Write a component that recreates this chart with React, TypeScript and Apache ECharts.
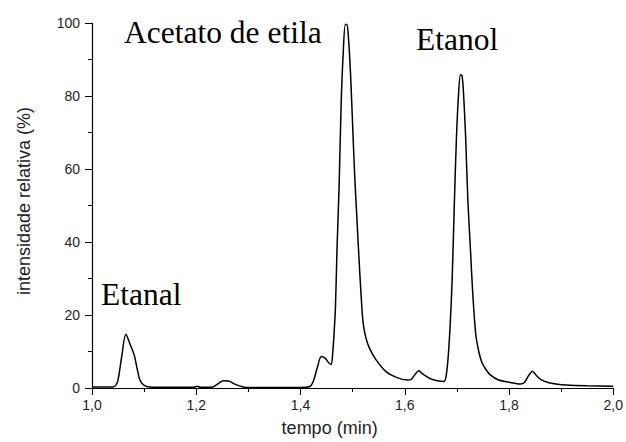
import React, { useEffect, useRef } from "react";
import * as echarts from "echarts";

const times = [
  1.0, 1.04, 1.046, 1.05, 1.057, 1.065, 1.073, 1.081, 1.087, 1.092, 1.1, 1.11, 1.15, 1.195, 1.202, 1.208,
  1.232, 1.242, 1.252, 1.262, 1.275, 1.29, 1.3, 1.4, 1.418, 1.425, 1.432, 1.44, 1.447, 1.455, 1.459,
  1.462, 1.464, 1.467, 1.47, 1.474, 1.478, 1.482, 1.486, 1.489, 1.492, 1.496, 1.5, 1.504, 1.508, 1.512,
  1.516, 1.52, 1.525, 1.532, 1.545, 1.564, 1.584, 1.605, 1.612, 1.62, 1.627, 1.635, 1.65, 1.665, 1.675, 1.679,
  1.683, 1.687, 1.691, 1.695, 1.699, 1.703, 1.707, 1.71, 1.713, 1.717, 1.721, 1.726, 1.73, 1.736, 1.742,
  1.748, 1.756, 1.764, 1.78, 1.8, 1.822, 1.83, 1.838, 1.845, 1.852, 1.862, 1.875, 1.89, 1.91, 1.95, 2.0,
];
const intensities = [
  0.3, 0.3, 0.8, 2.2, 8.6, 14.7, 12.0, 9.0, 5.0, 2.2, 0.7, 0.3, 0.2, 0.2, 0.5, 0.2,
  0.3, 1.2, 2.0, 1.9, 1.0, 0.3, 0.15, 0.15, 0.4, 2.0, 5.5, 8.6, 8.2, 6.8, 6.5,
  10, 14, 22, 38, 55, 78, 92, 99.6, 99.6, 96, 86, 72, 58, 47, 36,
  26, 18, 14, 11, 7.7, 4.5, 2.9, 2.2, 2.3, 3.8, 4.7, 3.8, 2.5, 1.9, 1.8, 3,
  8, 17, 30, 50, 68, 80, 85.8, 85.5, 80, 68, 51.5, 38, 27, 15, 10,
  7, 5, 3.6, 2.2, 1.6, 1.1, 1.6, 3.5, 4.6, 3.5, 2.2, 1.5, 1.1, 0.8, 0.6, 0.5,
];
const xTickLabels: Record<string, string> = { "1": "1,0", "1.2": "1,2", "1.4": "1,4", "1.6": "1,6", "1.8": "1,8", "2": "2,0" };
const peakLabels = ["Etanal", "Acetato de etila", "Etanol"];

export default function App() {
  const ref = useRef<HTMLDivElement>(null);
  useEffect(() => {
    if (!ref.current) return;
    const chart = echarts.init(ref.current, null, { renderer: "svg" });
    const data = times.map((t, i) => [t, intensities[i]]);
    const axisText = { fontFamily: "Liberation Sans, Arial, sans-serif", color: "#222" };
    const peakStyle = { fontFamily: "Liberation Serif, Times New Roman, serif", fontSize: 31.5, fill: "#000", verticalAlign: "top", align: "left" };
    chart.setOption({
      animation: false,
      backgroundColor: "#fff",
      grid: { left: 92, right: 12, top: 23, bottom: 54, containLabel: false },
      xAxis: {
        type: "value",
        min: 1.0,
        max: 2.0,
        interval: 0.2,
        name: "tempo (min)",
        nameLocation: "middle",
        nameGap: 31,
        nameTextStyle: { ...axisText, fontSize: 18, padding: [0, 46, 0, 0] },
        axisLine: { show: true, lineStyle: { color: "#000", width: 1.2 } },
        axisTick: { show: true, length: 7, lineStyle: { color: "#000" } },
        minorTick: { show: true, splitNumber: 2, length: 4, lineStyle: { color: "#000" } },
        splitLine: { show: false },
        axisLabel: {
          ...axisText,
          fontSize: 14,
          margin: 10,
          formatter: (v: number) => xTickLabels[String(Math.round(v * 10) / 10)] ?? String(v).replace(".", ","),
        },
      },
      yAxis: {
        type: "value",
        min: 0,
        max: 100,
        interval: 20,
        name: "intensidade relativa (%)",
        nameLocation: "middle",
        nameGap: 59,
        nameTextStyle: { ...axisText, fontSize: 18, padding: [0, 0, 0, 9] },
        axisLine: { show: true, lineStyle: { color: "#000", width: 1.2 } },
        axisTick: { show: true, length: 7, lineStyle: { color: "#000" } },
        minorTick: { show: true, splitNumber: 2, length: 4, lineStyle: { color: "#000" } },
        splitLine: { show: false },
        axisLabel: { ...axisText, fontSize: 14, margin: 12 },
      },
      series: [
        {
          type: "line",
          data,
          showSymbol: false,
          smooth: 0.3,
          lineStyle: { color: "#000", width: 1.5 },
        },
      ],
      graphic: [
        { type: "text", left: 101, top: 278, style: { ...peakStyle, text: peakLabels[0] } },
        { type: "text", left: 124, top: 16, style: { ...peakStyle, text: peakLabels[1] } },
        { type: "text", left: 416, top: 23, style: { ...peakStyle, text: peakLabels[2] } },
      ],
    });
    return () => chart.dispose();
  }, []);
  return <div ref={ref} style={{ width: 626, height: 442, position: "absolute", left: 0, top: 0 }} />;
}
